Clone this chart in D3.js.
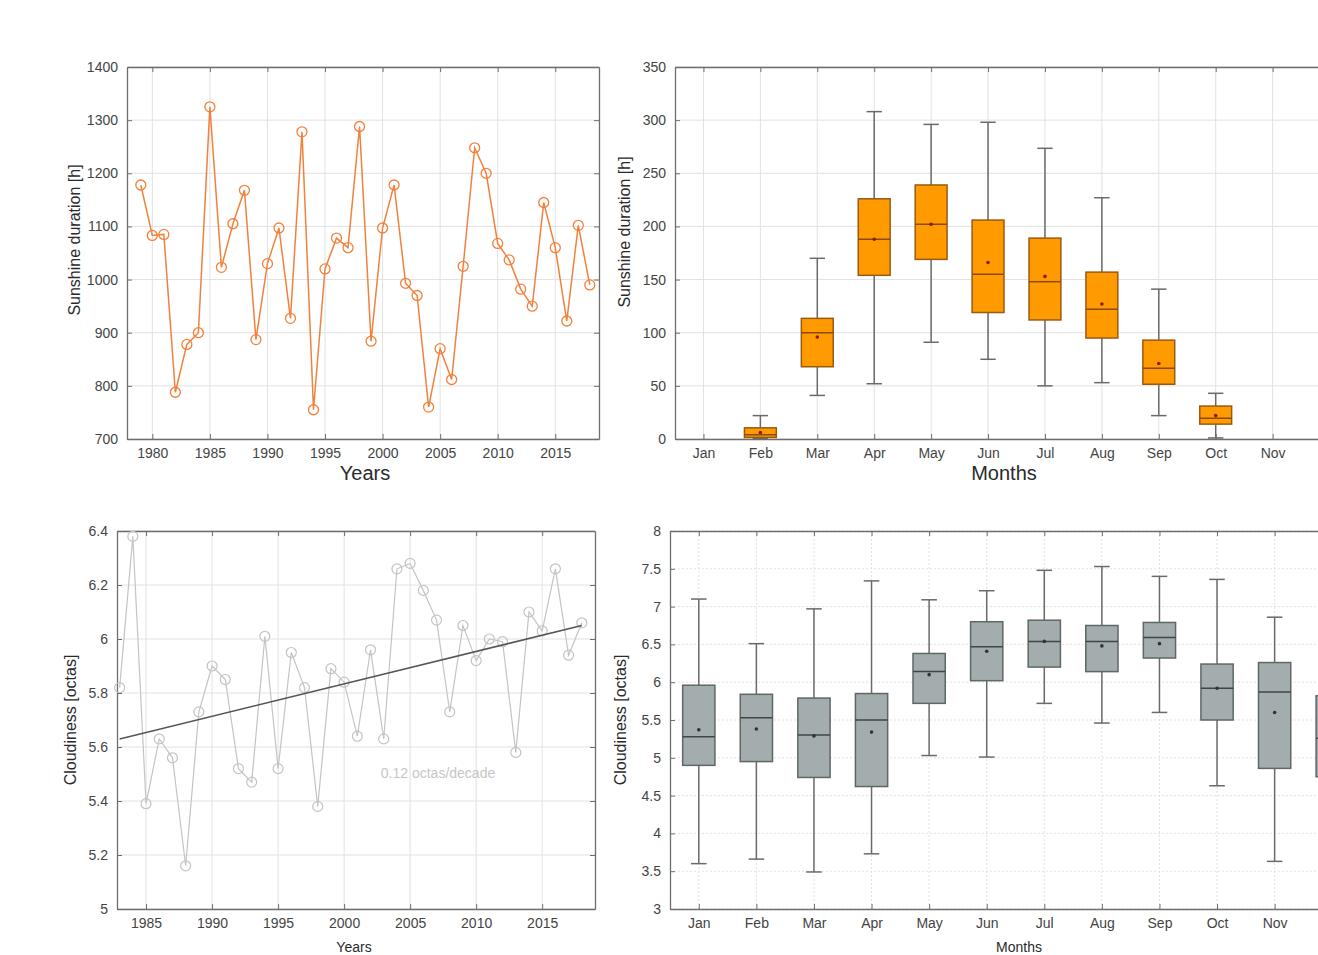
<!DOCTYPE html>
<html>
<head>
<meta charset="utf-8">
<script src="https://cdn.jsdelivr.net/npm/d3@7"></script>
<style>
  body { margin: 0; background: #fff; overflow: hidden; }
  svg { font-family: "Liberation Sans", Arial, sans-serif; display: block; }
</style>
</head>
<body>
<div id="chart"></div>
<script>
// yearly sunshine (top left)
const sunYears = [1979,1980,1981,1982,1983,1984,1985,1986,1987,1988,1989,1990,1991,1992,1993,1994,1995,1996,1997,1998,
                  1999,2000,2001,2002,2003,2004,2005,2006,2007,2008,2009,2010,2011,2012,2013,2014,2015,2016,2017,2018];
const sunValues = [1178,1083,1085,788,878,900,1325,1023,1105,1168,887,1030,1097,927,1278,755,1020,1078,1060,1288,
                   884,1097,1178,993,970,760,870,812,1025,1248,1200,1068,1037,982,950,1145,1060,922,1102,990];

// yearly cloudiness (bottom left)
const cloudYears = [1983,1984,1985,1986,1987,1988,1989,1990,1991,1992,1993,1994,1995,1996,1997,1998,1999,2000,
                    2001,2002,2003,2004,2005,2006,2007,2008,2009,2010,2011,2012,2013,2014,2015,2016,2017,2018];
const cloudValues = [5.82,6.38,5.39,5.63,5.56,5.16,5.73,5.90,5.85,5.52,5.47,6.01,5.52,5.95,5.82,5.38,5.89,5.84,
                     5.64,5.96,5.63,6.26,6.28,6.18,6.07,5.73,6.05,5.92,6.00,5.99,5.58,6.10,6.03,6.26,5.94,6.06];
const trendYears = [1983, 2018];
const trendValues = [5.63, 6.05];
const trendLabel = "0.12 octas/decade";

// monthly box plots
const months = ["Jan","Feb","Mar","Apr","May","Jun","Jul","Aug","Sep","Oct","Nov","Dec"];

const sunLo   = [null, 0.5, 41, 52, 91, 75, 50, 53, 22, 1, null, null];
const sunQ1   = [null, 1.5, 68, 154, 169, 119, 112, 95, 51.5, 14, null, null];
const sunMed  = [null, 4, 100, 188, 202, 155, 148, 122, 66.5, 19.5, null, null];
const sunQ3   = [null, 10.5, 113.5, 226, 239, 206, 189, 157, 93, 31, null, null];
const sunHi   = [null, 22, 170, 308, 296, 298, 273.5, 227, 141, 43, null, null];
const sunMean = [null, 6, 96, 188, 202, 166, 153, 127, 71, 22, null, null];

const cloudLo   = [3.60, 3.66, 3.49, 3.73, 5.03, 5.01, 5.72, 5.46, 5.60, 4.63, 3.63, 3.70];
const cloudQ1   = [4.90, 4.95, 4.74, 4.62, 5.72, 6.02, 6.20, 6.14, 6.32, 5.50, 4.86, 4.75];
const cloudMed  = [5.28, 5.53, 5.30, 5.50, 6.14, 6.47, 6.54, 6.54, 6.59, 5.92, 5.87, 5.26];
const cloudQ3   = [5.96, 5.84, 5.79, 5.85, 6.38, 6.80, 6.82, 6.75, 6.79, 6.24, 6.26, 5.82];
const cloudHi   = [7.10, 6.51, 6.97, 7.34, 7.09, 7.21, 7.48, 7.53, 7.40, 7.36, 6.86, 7.20];
const cloudMean = [5.37, 5.38, 5.29, 5.34, 6.10, 6.41, 6.54, 6.48, 6.51, 5.92, 5.60, 5.30];

// tick labels
const sunYTicks = [700,800,900,1000,1100,1200,1300,1400];
const sunMonthYTicks = [0,50,100,150,200,250,300,350];
const cloudYTicks = [5,5.2,5.4,5.6,5.8,6,6.2,6.4];
const cloudMonthYTicks = [3,3.5,4,4.5,5,5.5,6,6.5,7,7.5,8];
const yearTicksTop = [1980,1985,1990,1995,2000,2005,2010,2015];
const yearTicksBottom = [1985,1990,1995,2000,2005,2010,2015];

const W = 1318, H = 955;
const svg = d3.select("#chart").append("svg").attr("width", W).attr("height", H);

const axisColor = "#6e6e6e";
const gridColor = "#e2e2e2";
const tickText = "#444";

function frame(p, x, y, xTicks, yTicks, xFmt, yFmt, dashed){
    let g = svg.append("g");
    // grid
    g.append("g").selectAll("line").data(xTicks).enter().append("line")
        .attr("x1", d => x(d)).attr("x2", d => x(d))
        .attr("y1", p.top).attr("y2", p.bottom)
        .attr("stroke", gridColor).attr("stroke-dasharray", dashed ? "2,2" : null);
    g.append("g").selectAll("line").data(yTicks).enter().append("line")
        .attr("x1", p.left).attr("x2", p.right)
        .attr("y1", d => y(d)).attr("y2", d => y(d))
        .attr("stroke", gridColor).attr("stroke-dasharray", dashed ? "2,2" : null);

    let ax = [
        [d3.axisBottom(x).tickValues(xTicks).tickFormat(xFmt), `translate(0,${p.bottom})`],
        [d3.axisTop(x).tickValues(xTicks).tickFormat(""), `translate(0,${p.top})`],
        [d3.axisLeft(y).tickValues(yTicks).tickFormat(yFmt), `translate(${p.left},0)`],
        [d3.axisRight(y).tickValues(yTicks).tickFormat(""), `translate(${p.right},0)`]
    ];
    ax.forEach(a => {
        let s = g.append("g").attr("transform", a[1])
            .call(a[0].tickSizeInner(-5).tickSizeOuter(0).tickPadding(9));
        s.select(".domain").attr("stroke", axisColor).attr("stroke-width", 1.3);
        s.selectAll(".tick line").attr("stroke", axisColor);
        s.selectAll("text").attr("fill", tickText).style("font-size", "14px");
    });
    return g;
}

function yLabel(text, x, y, size){
    svg.append("text").attr("transform", `translate(${x},${y}) rotate(-90)`)
        .attr("text-anchor", "middle").attr("fill", "#2a2a2a")
        .style("font-size", size + "px").text(text);
}
function xLabel(text, x, y, size){
    svg.append("text").attr("x", x).attr("y", y)
        .attr("text-anchor", "middle").attr("fill", "#2a2a2a")
        .style("font-size", size + "px").text(text);
}

// ---------- top left: yearly sunshine ----------
let p1 = {left: 127, top: 67, right: 599, bottom: 439};
let x1 = d3.scaleLinear().domain([1977.8, 2018.8]).range([p1.left, p1.right]);
let y1 = d3.scaleLinear().domain([700, 1400]).range([p1.bottom, p1.top]);
frame(p1, x1, y1, yearTicksTop, sunYTicks, d3.format("d"), d3.format("d"), false);

let orange = "#f2813d";
svg.append("path").datum(sunValues)
    .attr("d", d3.line().x((d, i) => x1(sunYears[i])).y(d => y1(d)))
    .attr("fill", "none").attr("stroke", orange).attr("stroke-width", 1.5);
svg.append("g").selectAll("circle").data(sunValues).enter().append("circle")
    .attr("cx", (d, i) => x1(sunYears[i])).attr("cy", d => y1(d)).attr("r", 5)
    .attr("fill", "none").attr("stroke", orange).attr("stroke-width", 1.3);

yLabel("Sunshine duration [h]", 80, 240, 16);
xLabel("Years", 365, 480, 20);

// ---------- top right: monthly sunshine boxes ----------
let p2 = {left: 675, top: 67, right: 1358, bottom: 439};
let x2 = d3.scaleLinear().domain([0.5, 12.5]).range([p2.left, p2.right]);
let y2 = d3.scaleLinear().domain([0, 350]).range([p2.bottom, p2.top]);
let monthIdx = months.map((m, i) => i + 1);
frame(p2, x2, y2, monthIdx, sunMonthYTicks, d => months[d - 1], d3.format("d"), false);

function boxes(x, y, lo, q1, med, q3, hi, mean, style){
    let band = x(2) - x(1);
    let bw = band * 0.56, cw = band * 0.27;
    let g = svg.append("g");
    months.forEach((m, i) => {
        if (med[i] === null) return;
        let cx = x(i + 1);
        g.append("line").attr("x1", cx).attr("x2", cx).attr("y1", y(hi[i])).attr("y2", y(q3[i]))
            .attr("stroke", style.whisk).attr("stroke-width", 1.5);
        g.append("line").attr("x1", cx).attr("x2", cx).attr("y1", y(q1[i])).attr("y2", y(lo[i]))
            .attr("stroke", style.whisk).attr("stroke-width", 1.5);
        [hi[i], lo[i]].forEach(v => {
            g.append("line").attr("x1", cx - cw / 2).attr("x2", cx + cw / 2)
                .attr("y1", y(v)).attr("y2", y(v))
                .attr("stroke", style.whisk).attr("stroke-width", 1.5);
        });
        g.append("rect").attr("x", cx - bw / 2).attr("width", bw)
            .attr("y", y(q3[i])).attr("height", y(q1[i]) - y(q3[i]))
            .attr("fill", style.fill).attr("stroke", style.edge).attr("stroke-width", 1.5);
        g.append("line").attr("x1", cx - bw / 2).attr("x2", cx + bw / 2)
            .attr("y1", y(med[i])).attr("y2", y(med[i]))
            .attr("stroke", style.med).attr("stroke-width", 1.5);
        g.append("circle").attr("cx", cx).attr("cy", y(mean[i])).attr("r", 1.8)
            .attr("fill", style.mean);
    });
}

boxes(x2, y2, sunLo, sunQ1, sunMed, sunQ3, sunHi, sunMean,
      {fill: "#ff9a00", edge: "#9a5a10", med: "#8a4a0a", whisk: "#6a6a6a", mean: "#8b1a00"});

yLabel("Sunshine duration [h]", 630, 232, 16);
xLabel("Months", 1004, 480, 20);

// ---------- bottom left: yearly cloudiness ----------
let p3 = {left: 117, top: 531, right: 595, bottom: 909};
let x3 = d3.scaleLinear().domain([1982.8, 2019]).range([p3.left, p3.right]);
let y3 = d3.scaleLinear().domain([5, 6.4]).range([p3.bottom, p3.top]);
frame(p3, x3, y3, yearTicksBottom, cloudYTicks, d3.format("d"), d => d3.format("~g")(d), false);

let grey = "#c4c4c4";
svg.append("path").datum(cloudValues)
    .attr("d", d3.line().x((d, i) => x3(cloudYears[i])).y(d => y3(d)))
    .attr("fill", "none").attr("stroke", grey).attr("stroke-width", 1.2);
svg.append("g").selectAll("circle").data(cloudValues).enter().append("circle")
    .attr("cx", (d, i) => x3(cloudYears[i])).attr("cy", d => y3(d)).attr("r", 5)
    .attr("fill", "none").attr("stroke", grey).attr("stroke-width", 1.2);
svg.append("line")
    .attr("x1", x3(trendYears[0])).attr("y1", y3(trendValues[0]))
    .attr("x2", x3(trendYears[1])).attr("y2", y3(trendValues[1]))
    .attr("stroke", "#555").attr("stroke-width", 1.5);
svg.append("text").attr("x", 438).attr("y", 778).attr("text-anchor", "middle")
    .attr("fill", "#c6c6c6").style("font-size", "14px").text(trendLabel);

yLabel("Cloudiness [octas]", 76, 720, 16);
xLabel("Years", 354, 952, 14);

// ---------- bottom right: monthly cloudiness boxes ----------
let p4 = {left: 670, top: 531, right: 1361, bottom: 909};
let x4 = d3.scaleLinear().domain([0.5, 12.5]).range([p4.left, p4.right]);
let y4 = d3.scaleLinear().domain([3, 8]).range([p4.bottom, p4.top]);
frame(p4, x4, y4, monthIdx, cloudMonthYTicks, d => months[d - 1], d => d3.format("~g")(d), true);

boxes(x4, y4, cloudLo, cloudQ1, cloudMed, cloudQ3, cloudHi, cloudMean,
      {fill: "#a3adad", edge: "#5f6767", med: "#3e4646", whisk: "#6a6a6a", mean: "#333"});

yLabel("Cloudiness [octas]", 626, 720, 16);
xLabel("Months", 1019, 952, 14);
</script>
</body>
</html>
